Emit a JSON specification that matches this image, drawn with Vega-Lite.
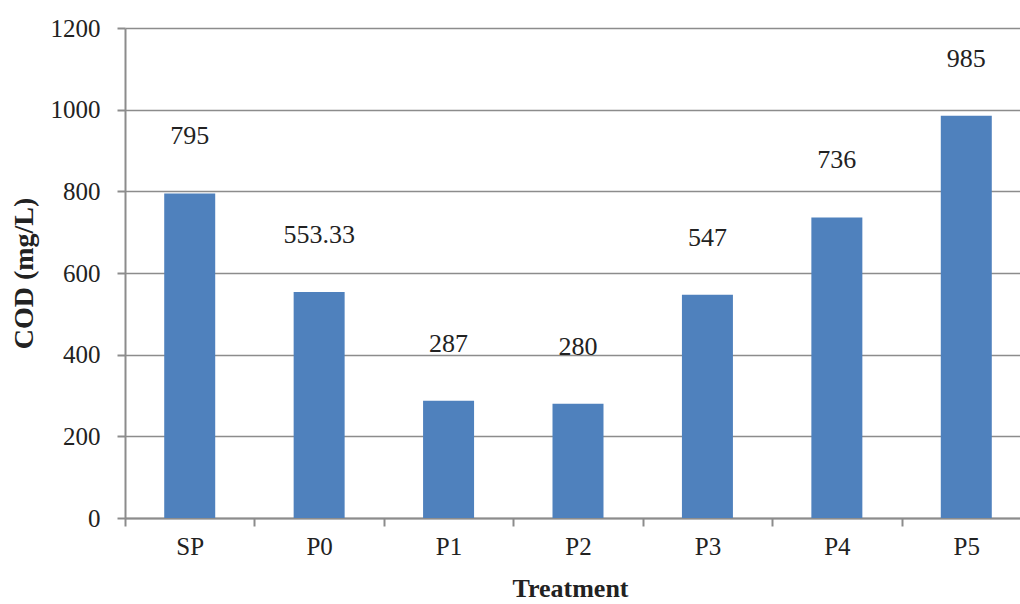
{
  "$schema": "https://vega.github.io/schema/vega-lite/v6.json",
  "autosize": {"type": "none"},
  "padding": {"left": 125, "top": 28, "right": 0, "bottom": 86},
  "width": 906,
  "height": 490,
  "background": "white",
  "data": {
    "values": [
      {"treatment": "SP", "cod": 795, "label": "795"},
      {"treatment": "P0", "cod": 553.33, "label": "553.33"},
      {"treatment": "P1", "cod": 287, "label": "287"},
      {"treatment": "P2", "cod": 280, "label": "280"},
      {"treatment": "P3", "cod": 547, "label": "547"},
      {"treatment": "P4", "cod": 736, "label": "736"},
      {"treatment": "P5", "cod": 985, "label": "985"}
    ]
  },
  "config": {
    "view": {"stroke": null},
    "font": "Liberation Serif",
    "axis": {
      "labelFont": "Liberation Serif",
      "titleFont": "Liberation Serif",
      "labelFontSize": 25,
      "labelColor": "#222222",
      "titleColor": "#222222",
      "titleFontWeight": "bold",
      "domainColor": "#8c8c8c",
      "domainWidth": 2,
      "tickColor": "#8c8c8c",
      "tickWidth": 2,
      "tickSize": 8,
      "gridColor": "#8c8c8c",
      "gridWidth": 1.5
    }
  },
  "encoding": {
    "x": {
      "field": "treatment",
      "type": "nominal",
      "sort": null,
      "scale": {"paddingInner": 0, "paddingOuter": 0},
      "axis": {
        "title": "Treatment",
        "titleFontSize": 26,
        "titleX": 445,
        "labelAngle": 0,
        "tickBand": "extent",
        "labelPadding": 8,
        "titlePadding": 16
      }
    },
    "y": {
      "field": "cod",
      "type": "quantitative",
      "scale": {"domain": [0, 1200]},
      "axis": {
        "title": "COD (mg/L)",
        "titleFontSize": 28,
        "format": "d",
        "values": [0, 200, 400, 600, 800, 1000, 1200],
        "grid": true,
        "labelPadding": 17,
        "titlePadding": 12
      }
    }
  },
  "layer": [
    {"mark": {"type": "bar", "color": "#4f81bd", "width": {"band": 0.394}}},
    {
      "mark": {
        "type": "text",
        "baseline": "bottom",
        "dy": -44,
        "fontSize": 26,
        "color": "#222222",
        "font": "Liberation Serif"
      },
      "encoding": {"text": {"field": "label"}}
    }
  ]
}
